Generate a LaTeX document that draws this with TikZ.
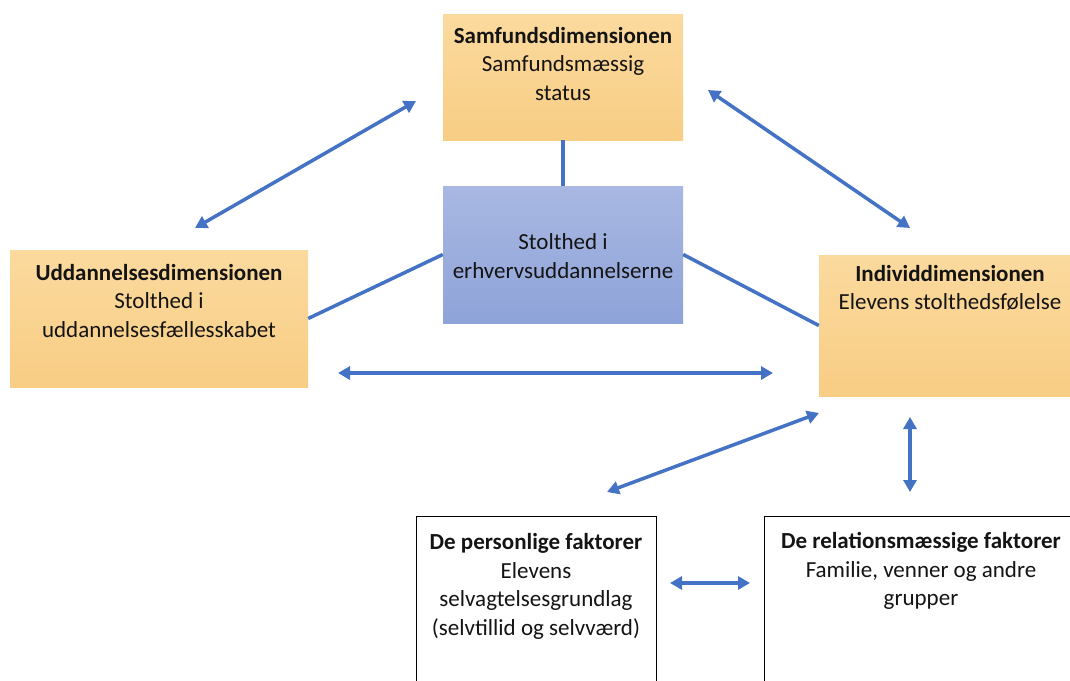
\documentclass[tikz,border=0pt]{standalone}
\usepackage{fontspec}
\setmainfont{Carlito}
\usetikzlibrary{arrows.meta}
\definecolor{lineblue}{HTML}{4472C4}
\definecolor{orangetop}{HTML}{FBDA9E}
\definecolor{orangebot}{HTML}{F8CD84}
\definecolor{bluetop}{HTML}{A9B8E2}
\definecolor{bluebot}{HTML}{8EA3D9}
\definecolor{txt}{HTML}{141414}
\tikzset{
  orangebox/.style={rectangle, inner sep=0pt, top color=orangetop, bottom color=orangebot, draw=none},
  bluebox/.style={rectangle, inner sep=0pt, top color=bluetop, bottom color=bluebot, draw=none},
  whitebox/.style={rectangle, inner sep=0pt, fill=white, draw=black, line width=1pt},
  boxtext/.style={align=center, text=txt, inner sep=0pt, font=\fontsize{23}{28.5}\selectfont},
  link/.style={draw=lineblue, line width=3.5pt},
  dblarrow/.style={draw=lineblue, line width=3.5pt, {Triangle[length=12pt,width=13pt]}-{Triangle[length=12pt,width=13pt]}}
}
\begin{document}
\begin{tikzpicture}[x=1pt,y=-1pt]
\useasboundingbox (0,0) rectangle (1070,680);
\clip (0,0) rectangle (1070,680);
\fill[white] (0,0) rectangle (1070,680);
% boxes
\node[orangebox, minimum width=240pt, minimum height=126pt] (samf) at (563,77) {};
\node[bluebox, minimum width=240pt, minimum height=137pt] (cen) at (563,254.5) {};
\node[orangebox, minimum width=298pt, minimum height=137pt] (udd) at (159,318.5) {};
\node[orangebox, minimum width=261pt, minimum height=141pt] (ind) at (949.5,325.5) {};
\node[whitebox, minimum width=240pt, minimum height=184pt] (pers) at (536,608) {};
\node[whitebox, minimum width=316pt, minimum height=184pt] (rel) at (922,608) {};
% texts
\node[boxtext] (samft) at (563,64) {\textbf{Samfundsdimensionen}\\Samfundsmæssig\\status};
\node[boxtext] (cent) at (563,256) {Stolthed i\\erhvervsuddannelserne};
\node[boxtext] (uddt) at (159,301) {\textbf{Uddannelsesdimensionen}\\Stolthed i\\uddannelsesfællesskabet};
\node[boxtext] (indt) at (950,288) {\textbf{Individdimensionen}\\Elevens stolthedsfølelse};
\node[boxtext] (perst) at (536,586.5) {\textbf{De personlige faktorer}\\Elevens\\selvagtelsesgrundlag\\(selvtillid og selvværd)};
\node[boxtext] (relt) at (921,571) {\textbf{De relationsmæssige faktorer}\\Familie, venner og andre\\grupper};
% plain links
\draw[link] (samf.south) -- (cen.north);
\draw[link] (cen.west) -- (udd.east);
\draw[link] (cen.east) -- (ind.west);
% arrow end points
\coordinate (a1) at (416,101);
\coordinate (a2) at (195,228);
\coordinate (b1) at (708,90);
\coordinate (b2) at (910,228);
\coordinate (c1) at (338,373);
\coordinate (c2) at (773,373);
\coordinate (d1) at (819,413);
\coordinate (d2) at (607,492);
\coordinate (e1) at (910,417);
\coordinate (e2) at (910,492);
\coordinate (f1) at (670,583);
\coordinate (f2) at (750,583);
\draw[dblarrow] (a1) -- (a2);
\draw[dblarrow] (b1) -- (b2);
\draw[dblarrow] (c1) -- (c2);
\draw[dblarrow] (d1) -- (d2);
\draw[dblarrow] (e1) -- (e2);
\draw[dblarrow] (f1) -- (f2);
\end{tikzpicture}
\end{document}
